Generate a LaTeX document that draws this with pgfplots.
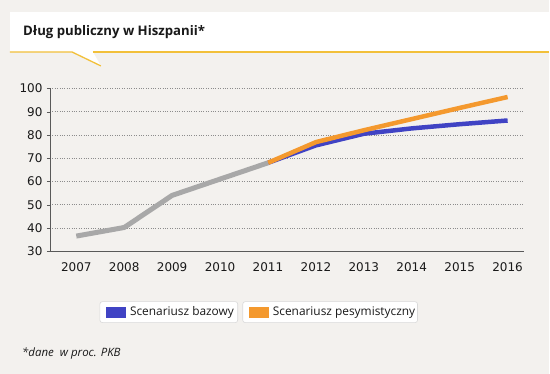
\documentclass[border=0pt]{standalone}
\usepackage{pgfplots}
\pgfplotsset{compat=1.18}
\usepackage{fontspec}
\setmainfont{Open Sans}
\newfontfamily\tickfont{DejaVu Sans}
\definecolor{bg}{HTML}{F3F1EE}
\definecolor{gold}{HTML}{F2C03A}
\definecolor{basec}{HTML}{4043C4}
\definecolor{pesc}{HTML}{F4992E}
\definecolor{histc}{HTML}{A8A8A8}
\begin{document}
\begin{tikzpicture}[x=1pt,y=1pt]
\fill[bg] (0,0) rectangle (550,374);
% title box
\fill[white] (10,322) rectangle (550,362);
\fill[white] (72,322) -- (101,308) -- (93,322) -- cycle;
\draw[gold, line width=1.3pt] (10,322) -- (72,322) -- (101,308);
\draw[gold, line width=1.3pt] (93,322) -- (550,322);
\node[anchor=base west, inner sep=0pt, font=\bfseries\fontsize{13.2}{16}\selectfont, text=black!90] at (23,338) {Dług publiczny w Hiszpanii*};
\begin{axis}[
  at={(50pt,122.5pt)}, anchor=south west,
  scale only axis, width=475pt, height=163pt,
  xmin=2006.45, xmax=2016.35, ymin=30, ymax=100,
  axis x line=bottom, axis y line=left,
  axis line style={-, color=black!65, line width=0.6pt},
  xtick={2007,...,2016},
  xticklabels={2007,2008,2009,2010,2011,2012,2013,2014,2015,2016},
  ytick={30,40,...,100},
  ymajorgrids, grid style={dotted, color=black!45, line width=0.6pt},
  tick align=outside, major tick length=3pt,
  xtick style={draw=none},
  ytick style={color=black!65},
  ticklabel style={font=\tickfont\fontsize{12}{14}\selectfont, text=black!90},
  /pgf/number format/assume math mode=true,
  yticklabel style={xshift=-1pt},
  xticklabel style={yshift=-5pt},
  clip=false,
]
\addplot[basec, line width=4.5pt, line join=round] coordinates {
 (2011,68) (2012,75.5) (2013,80.5) (2014,82.8) (2015,84.6) (2016,86.2)};
\addplot[pesc, line width=4.5pt, line join=round] coordinates {
 (2011,68) (2012,76.9) (2013,82.0) (2014,86.8) (2015,91.6) (2016,96.3)};
\addplot[histc, line width=5pt, line join=round] coordinates {
 (2007,36.5) (2008,40.2) (2009,54.0) (2010,61.0) (2011,68.0)};
\end{axis}
% legend
\draw[black!15, fill=white, rounded corners=2.5pt, line width=0.6pt] (100,51) rectangle (238,72);
\draw[black!15, fill=white, rounded corners=2.5pt, line width=0.6pt] (243,51) rectangle (418,72);
\fill[basec] (106,56) rectangle (126,67);
\fill[pesc] (249,56) rectangle (269,67);
\node[anchor=west, inner sep=0pt, font=\fontsize{11.9}{14}\selectfont, text=black!90] at (130,61.5) {Scenariusz bazowy};
\node[anchor=west, inner sep=0pt, font=\fontsize{11.9}{14}\selectfont, text=black!90] at (273,61.5) {Scenariusz pesymistyczny};
% footnote
\node[anchor=base west, inner sep=0pt, font=\itshape\fontsize{11.5}{13}\selectfont, text=black!90] at (22,17) {*dane\ \ w proc. PKB};
\end{tikzpicture}
\end{document}
